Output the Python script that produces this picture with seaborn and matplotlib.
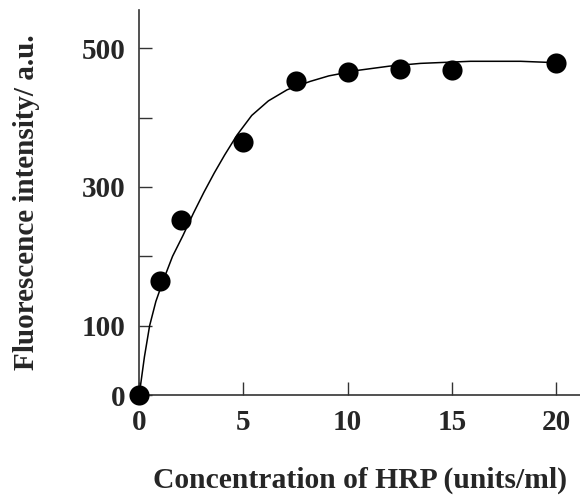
import matplotlib
matplotlib.use("Agg")
import matplotlib.pyplot as plt
import seaborn as sns
import pandas as pd

# measured points
conc = [0, 1, 2, 5, 7.5, 10, 12.5, 15, 20]
intensity = [0, 165, 253, 364, 452, 466, 470, 468, 479]

# fitted curve
curve_x = [0, 0.25, 0.5, 0.8, 1.15, 1.6, 2.1, 2.6, 3.1, 3.6, 4.1, 4.7, 5.4, 6.2, 7.1, 8.2, 9.1, 10.5, 12.0, 13.5, 15.9, 18.3, 20]
curve_y = [0, 55, 100, 135, 165, 200, 230, 262, 292, 320, 346, 375, 403, 424, 440, 452, 460, 468, 474, 478, 481, 481, 479]

xticks = [0, 5, 10, 15, 20]
yticks = [0, 100, 200, 300, 400, 500]
ytick_labels = ["0", "100", "", "300", "", "500"]

sns.set_style("ticks")
plt.rcParams['font.family'] = ['Liberation Serif', 'DejaVu Serif']
plt.rcParams['font.weight'] = 'bold'

fig = plt.figure(figsize=(5.8, 4.97), dpi=100)
ax = fig.add_axes([0.240, 0.205, 0.760, 0.775])

pts = pd.DataFrame({"x": conc, "y": intensity})
cur = pd.DataFrame({"x": curve_x, "y": curve_y})

sns.lineplot(data=cur, x="x", y="y", ax=ax, color="black", linewidth=1.1, sort=False, estimator=None)
sns.scatterplot(data=pts, x="x", y="y", ax=ax, color="black", s=210, edgecolor="black", linewidth=0, zorder=5, clip_on=False)

ax.set_xlim(0, 21.15)
ax.set_ylim(0, 555)
ax.set_xticks(xticks)
ax.set_xticklabels([str(t) for t in xticks])
ax.set_yticks(yticks)
ax.set_yticklabels(ytick_labels)

for s in ["top", "right"]:
    ax.spines[s].set_visible(False)
for s in ["left", "bottom"]:
    ax.spines[s].set_linewidth(1.2)
    ax.spines[s].set_color("#333333")

ax.tick_params(axis="both", direction="in", length=9.5, width=1.0, color="#333333",
               labelsize=21, pad=10)
for lbl in ax.get_xticklabels() + ax.get_yticklabels():
    lbl.set_fontweight("bold")

ax.set_xlabel("Concentration of HRP (units/ml)", fontsize=21.3, fontweight="bold", labelpad=22)
ax.set_ylabel("Fluorescence intensity/ a.u.", fontsize=21, fontweight="bold", labelpad=30)

fig.savefig("out.png", dpi=100)
